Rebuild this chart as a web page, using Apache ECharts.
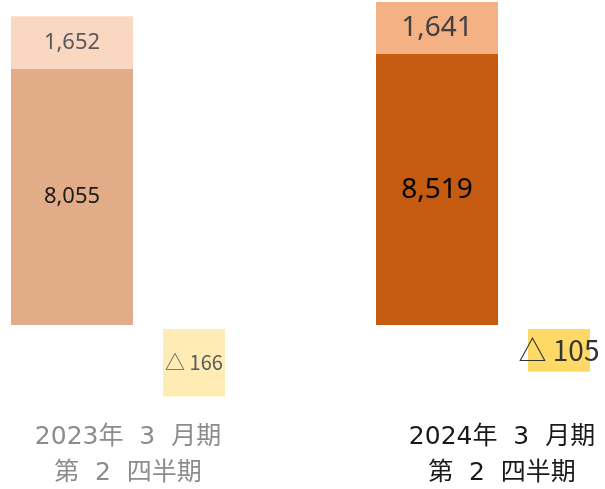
<!DOCTYPE html>
<html>
<head>
<meta charset="utf-8">
<script src="https://cdn.jsdelivr.net/npm/echarts@6/dist/echarts.min.js"></script>
<style>
  html, body { margin: 0; padding: 0; background: #fff; }
  #chart { width: 605px; height: 489px; }
</style>
</head>
<body>
<div id="chart"></div>
<script>
// données
const periods = ['2023年  3  月期\n第  2  四半期', '2024年  3  月期\n第  2  四半期'];
const baseValues = [8055, 8519];
const addValues = [1652, 1641];
const deltaValues = [-166, -105];

// styles par période (ancienne / récente)
const baseColors = ['#E2AC88', '#C55A11'];
const addColors = ['#F9D7C1', '#F4B183'];
const deltaColors = ['#FFEBB4', '#FFD966'];
const periodColors = ['#8C8C8C', '#1A1A1A'];
const numFont = "'Noto Sans', 'DejaVu Sans', sans-serif";

const fmt = (v) => Math.abs(v).toLocaleString('en-US');

const chart = echarts.init(document.getElementById('chart'));

chart.setOption({
  animation: false,
  grid: [
    // barres principales
    { left: -110.5, width: 730, top: 0, height: 325, outerBoundsMode: 'none' },
    // écarts (échelle à part)
    { left: 11.5, width: 730, top: 329, height: 70, outerBoundsMode: 'none' },
    // libellés des périodes
    { left: -59, width: 748, top: 400, height: 10, outerBoundsMode: 'none' }
  ],
  xAxis: [
    { type: 'category', gridIndex: 0, data: periods, show: false },
    { type: 'category', gridIndex: 1, data: periods, show: false },
    {
      type: 'category', gridIndex: 2,
      data: periods.map((p, i) => ({ value: p, textStyle: { color: periodColors[i] } })),
      axisLine: { show: false }, axisTick: { show: false },
      axisLabel: {
        margin: 9, fontSize: 25, lineHeight: 36,
        fontFamily: "'DejaVu Sans', 'Noto Sans CJK JP', sans-serif"
      }
    }
  ],
  yAxis: [
    { type: 'value', gridIndex: 0, min: 0, max: 10220, show: false },
    { type: 'value', gridIndex: 1, min: -172, max: 0, show: false },
    { type: 'value', gridIndex: 2, show: false }
  ],
  series: [
    {
      type: 'bar', xAxisIndex: 0, yAxisIndex: 0, stack: 'total', barWidth: 122,
      data: baseValues.map((v, i) => ({
        value: v,
        itemStyle: { color: baseColors[i] },
        label: { fontSize: i ? 28 : 22, color: i ? '#000' : '#1A1A1A' }
      })),
      label: { show: true, position: 'inside', fontFamily: numFont, formatter: (p) => fmt(p.value) }
    },
    {
      type: 'bar', xAxisIndex: 0, yAxisIndex: 0, stack: 'total', barWidth: 122,
      data: addValues.map((v, i) => ({
        value: v,
        itemStyle: { color: addColors[i] },
        label: { fontSize: i ? 28 : 22, color: i ? '#404040' : '#595959' }
      })),
      label: { show: true, position: 'inside', fontFamily: numFont, formatter: (p) => fmt(p.value) }
    },
    {
      type: 'bar', xAxisIndex: 1, yAxisIndex: 1, barWidth: 62,
      data: deltaValues.map((v, i) => ({
        value: v,
        itemStyle: { color: deltaColors[i] },
        label: { fontSize: i ? 28 : 20, color: i ? '#333' : '#595959' }
      })),
      label: {
        show: true, position: 'inside', fontFamily: "'Noto Sans CJK JP', sans-serif",
        formatter: (p) => '△ ' + fmt(p.value)
      }
    }
  ]
});
</script>
</body>
</html>
